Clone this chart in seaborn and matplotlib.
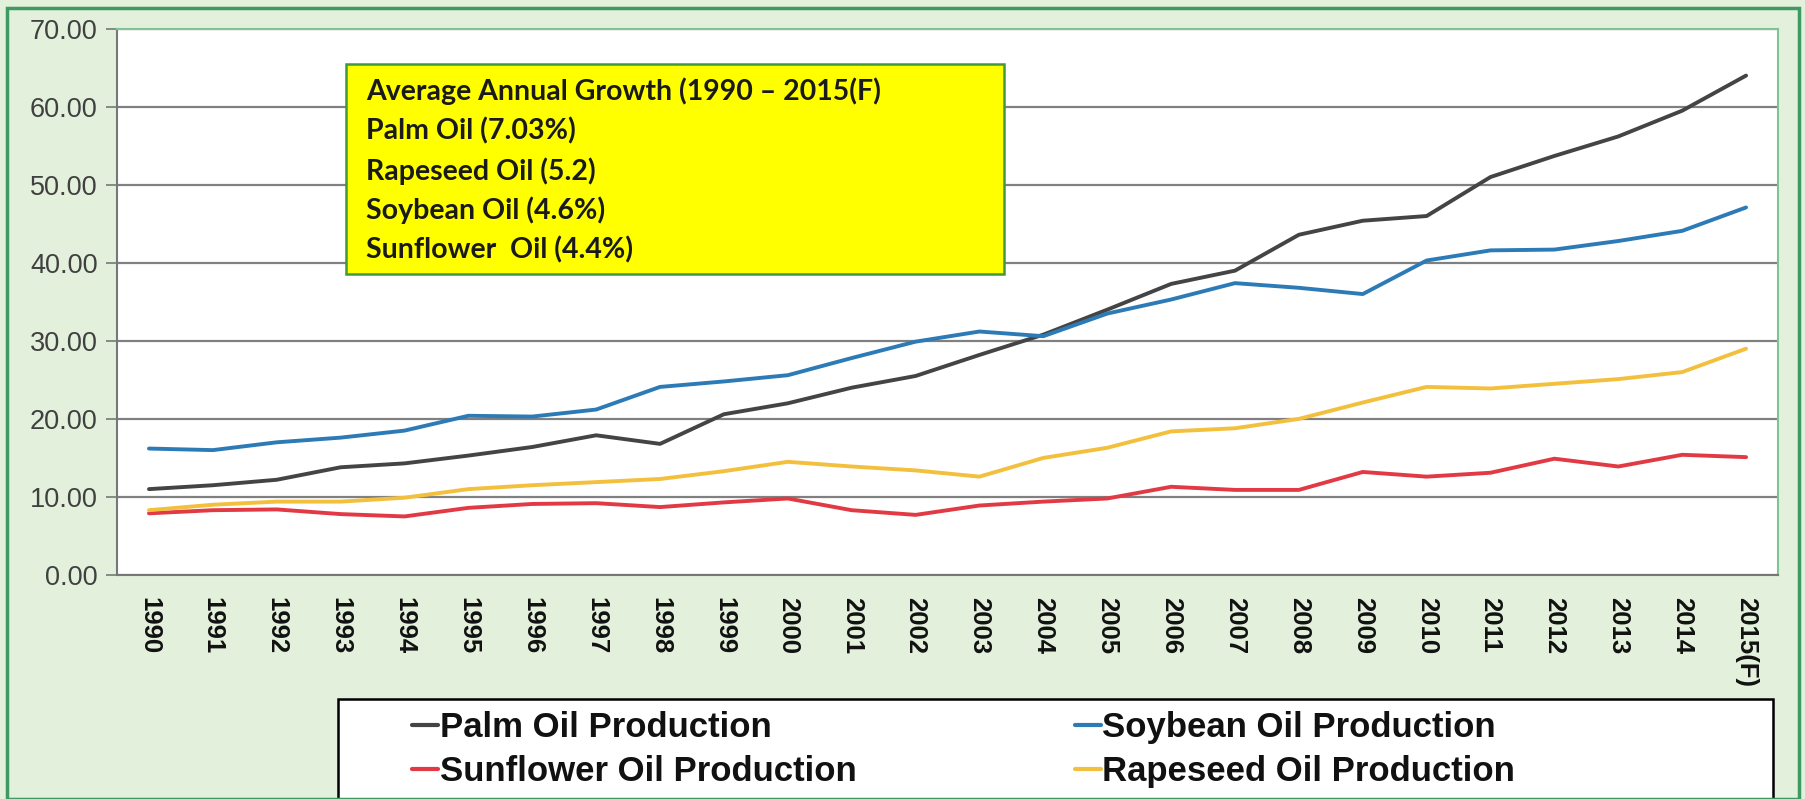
import seaborn as sns
import matplotlib.pyplot as plt
import matplotlib.patches as patches
from matplotlib.ticker import FixedLocator
import pandas as pd

years = [str(y) for y in range(1990, 2015)] + ['2015(F)']

palm = [11.0, 11.5, 12.2, 13.8, 14.3, 15.3, 16.4, 17.9, 16.8, 20.6, 22.0, 24.0, 25.5,
        28.2, 30.8, 34.0, 37.3, 39.0, 43.6, 45.4, 46.0, 51.0, 53.7, 56.2, 59.5, 64.0]
soybean = [16.2, 16.0, 17.0, 17.6, 18.5, 20.4, 20.3, 21.2, 24.1, 24.8, 25.6, 27.8, 29.9,
           31.2, 30.6, 33.5, 35.3, 37.4, 36.8, 36.0, 40.3, 41.6, 41.7, 42.8, 44.1, 47.1]
sunflower = [7.9, 8.3, 8.4, 7.8, 7.5, 8.6, 9.1, 9.2, 8.7, 9.3, 9.8, 8.3, 7.7,
             8.9, 9.4, 9.8, 11.3, 10.9, 10.9, 13.2, 12.6, 13.1, 14.9, 13.9, 15.4, 15.1]
rapeseed = [8.3, 9.0, 9.4, 9.4, 9.9, 11.0, 11.5, 11.9, 12.3, 13.3, 14.5, 13.9, 13.4,
            12.6, 15.0, 16.3, 18.4, 18.8, 20.0, 22.1, 24.1, 23.9, 24.5, 25.1, 26.0, 29.0]

series_names = ['Palm Oil Production', 'Soybean Oil Production',
                'Sunflower Oil Production', 'Rapeseed Oil Production']
colors = ['#444444', '#2c7bb6', '#e23a44', '#f3c03e']

note_lines = ['Average Annual Growth (1990 \u2013 2015(F)',
              'Palm Oil (7.03%)',
              'Rapeseed Oil (5.2)',
              'Soybean Oil (4.6%)',
              'Sunflower  Oil (4.4%)']

# long form table for seaborn
rows = []
for name, vals in zip(series_names, [palm, soybean, sunflower, rapeseed]):
    for i, v in enumerate(vals):
        rows.append({'idx': i, 'year': years[i], 'value': v, 'series': name})
df = pd.DataFrame(rows)

sns.set_style('white')
plt.rcParams['font.family'] = ['Liberation Sans', 'DejaVu Sans']

fig = plt.figure(figsize=(18.06, 7.99), dpi=100)
fig.patch.set_facecolor('#e3f0dc')
ax = fig.add_axes([0.0648, 0.2804, 0.9197, 0.6836])
ax.set_facecolor('white')

sns.lineplot(data=df, x='idx', y='value', hue='series', hue_order=series_names,
             palette=colors, linewidth=2.8, ax=ax, legend=True)

ax.set_xlim(-0.5, len(years) - 0.5)
ax.set_ylim(0, 70)
ax.set_yticks(range(0, 71, 10))
ax.set_yticklabels([f'{v:.2f}' for v in range(0, 71, 10)], fontsize=19.5, color='#404040')
ax.set_xticks(range(len(years)))
ax.set_xticklabels(years, rotation=270, fontsize=18.5, fontweight='bold', color='#111111')
ax.xaxis.set_minor_locator(FixedLocator([i - 0.5 for i in range(len(years) + 1)]))
ax.tick_params(axis='x', which='major', length=0, pad=16)
ax.tick_params(axis='x', which='minor', length=7, color='#777777', width=1.2)
ax.tick_params(axis='y', length=8, color='#777777', width=1.2, direction='out', left=True, pad=6)
ax.grid(axis='y', color='#808080', linewidth=1.6)
ax.set_axisbelow(True)
ax.set_xlabel('')
ax.set_ylabel('')

for s in ['left', 'bottom']:
    ax.spines[s].set_color('#777777')
    ax.spines[s].set_linewidth(1.5)
for s in ['top', 'right']:
    ax.spines[s].set_color('#7fc493')
    ax.spines[s].set_linewidth(1.5)

# growth note box
note = patches.Rectangle((0.138, 0.551), 0.396, 0.385, transform=ax.transAxes,
                         facecolor='#ffff00', edgecolor='#3f9a3a', linewidth=1.8, zorder=5)
ax.add_patch(note)
for k, line in enumerate(note_lines):
    ax.text(0.150, 0.885 - k * 0.0725, line, transform=ax.transAxes, fontsize=20.5,
            fontweight='bold', family=['Lato', 'DejaVu Sans'], color='#1a1a1a',
            va='center', ha='left', zorder=6)

# legend below the chart: box plus two columns
handles, labels = ax.get_legend_handles_labels()
ax.legend_.remove()
fig.add_artist(patches.Rectangle((0.187, -0.01), 0.795, 0.135, transform=fig.transFigure,
                                 facecolor='white', edgecolor='black', linewidth=1.8))
for cols, xpos in [([0, 2], 0.228), ([1, 3], 0.595)]:
    leg = fig.legend([handles[i] for i in cols], [labels[i] for i in cols], ncol=1,
                     loc='center left', bbox_to_anchor=(xpos, 0.062),
                     frameon=False, handlelength=0.75, handletextpad=0.05,
                     prop={'size': 25, 'weight': 'bold'}, labelspacing=0.32,
                     borderpad=0, borderaxespad=0)
    for t in leg.get_texts():
        t.set_color('#111111')
    for h in leg.get_lines():
        h.set_linewidth(3)

# outer green border
fig.add_artist(patches.Rectangle((0.004, 0.0), 0.992, 0.99, transform=fig.transFigure,
                                 fill=False, edgecolor='#3d9a62', linewidth=2.5))

fig.savefig('out.png', dpi=100, facecolor=fig.get_facecolor())
